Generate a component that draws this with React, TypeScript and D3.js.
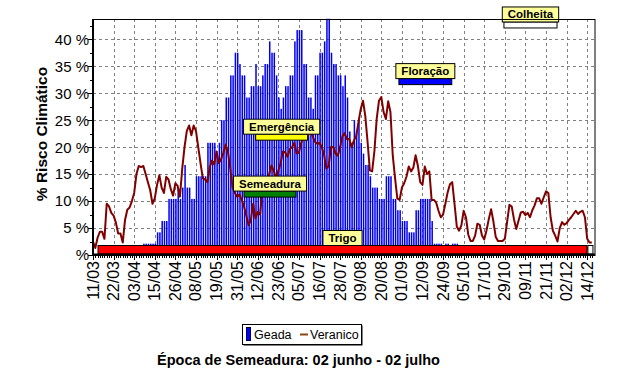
import { useEffect, useRef } from "react"
import * as d3 from "d3"

// x axis is one category per point, a date label every 9 points
const dateLabels = [
  "11/03", "22/03", "03/04", "15/04", "26/04", "08/05", "19/05", "31/05", "12/06",
  "23/06", "05/07", "16/07", "28/07", "09/08", "20/08", "01/09", "12/09", "24/09",
  "05/10", "17/10", "29/10", "09/11", "21/11", "02/12", "14/12",
]
const labelStep = 9
const nPoints = 219.4

// Veranico (%), one value per point
const veranico = [
  2.5, 1.3, 3.2, 4.3, 4.3, 3.0, 9.5, 9.0, 7.8, 7.3,
  6.0, 4.0, 4.0, 2.3, 6.5, 8.4, 8.8, 10.0, 11.5, 15.0,
  16.5, 16.3, 16.5, 15.0, 13.5, 12.0, 9.5, 10.5, 13.0, 14.8,
  12.5, 11.5, 14.5, 14.0, 12.2, 11.0, 13.3, 12.8, 10.8, 16.0,
  20.0, 23.0, 24.0, 22.2, 24.0, 23.0, 20.0, 17.0, 14.2, 14.0,
  13.5, 16.3, 17.5, 16.8, 19.2, 17.0, 17.8, 18.9, 20.5, 19.0,
  16.0, 12.5, 11.5, 10.8, 11.2, 10.2, 9.0, 7.3, 5.5, 6.5,
  9.5, 6.8, 8.0, 7.5, 11.8, 13.4, 13.0, 15.0, 16.6, 15.6,
  14.2, 15.6, 17.0, 19.2, 19.0, 18.2, 19.6, 20.0, 20.8, 18.8,
  19.0, 20.8, 21.8, 21.4, 22.3, 23.0, 22.0, 21.0, 20.6, 20.8,
  20.0, 18.5, 16.0, 16.5, 20.0, 20.0, 18.8, 18.4, 20.0, 22.0,
  22.6, 21.5, 21.5, 20.0, 21.2, 22.0, 24.6, 27.0, 28.6, 25.8,
  21.0, 15.7, 15.5, 19.3, 25.3, 28.6, 29.3, 26.5, 25.2, 28.5,
  26.5, 18.5, 14.3, 10.5, 10.2, 12.5, 13.3, 14.5, 16.4, 15.5,
  16.2, 18.5, 16.5, 13.5, 13.0, 16.4, 15.0, 15.5, 10.2, 10.2,
  9.7, 8.2, 7.0, 7.5, 9.5, 11.6, 13.1, 13.5, 9.5, 5.3,
  4.5, 5.5, 8.2, 7.0, 3.8, 2.6, 2.6, 3.6, 5.8, 5.6,
  3.6, 2.9, 4.6, 6.7, 8.5, 6.2, 3.4, 2.6, 2.6, 2.6,
  3.0, 6.2, 9.3, 9.0, 6.6, 4.8, 6.4, 7.9, 8.0, 7.4,
  7.8, 7.0, 8.3, 9.2, 10.5, 10.5, 9.5, 10.7, 11.8, 11.5,
  7.0, 4.5, 3.6, 2.5, 5.0, 6.1, 5.6, 5.9, 6.5, 7.0,
  7.6, 8.2, 7.6, 8.0, 8.2, 7.0, 3.0, 2.3, 2.3,
]

// Geada (%), one value per point
const geada = [
  0, 0, 0, 0, 0, 0, 0, 0, 0, 0,
  0, 0, 0, 0, 0, 0, 0, 0, 0, 0,
  0, 0, 2.1, 2.1, 2.1, 2.1, 2.1, 2.1, 4.2, 4.2,
  6.3, 6.3, 6.3, 10.4, 10.4, 10.4, 10.4, 12.5, 10.4, 12.5,
  16.7, 12.5, 12.5, 10.4, 10.4, 14.6, 14.6, 14.6, 14.6, 14.6,
  20.8, 20.8, 20.8, 20.8, 18.8, 20.8, 25, 25, 29.2, 29.2,
  33.3, 33.3, 37.5, 37.5, 35.4, 33.3, 33.3, 29.2, 29.2, 31.3,
  31.3, 35.4, 31.3, 31.3, 33.3, 35.4, 35.4, 39.6, 37.5, 37.5,
  33.3, 29.2, 27.1, 29.2, 31.3, 31.3, 33.3, 33.3, 39.6, 41.7,
  41.7, 41.7, 35.4, 35.4, 29.2, 29.2, 27.1, 33.3, 33.3, 37.5,
  37.5, 39.6, 43.8, 43.8, 37.5, 35.4, 35.4, 33.3, 33.3, 31.3,
  33.3, 29.2, 22.9, 20.8, 25, 22.9, 25, 20.8, 18.8, 16.7,
  16.7, 14.6, 12.5, 12.5, 12.5, 10.4, 10.4, 10.4, 14.6, 14.6,
  14.6, 10.4, 10.4, 8.3, 8.3, 6.3, 6.3, 6.3, 4.2, 4.2,
  4.2, 8.3, 8.3, 10.4, 10.4, 10.4, 10.4, 10.4, 6.3, 2.1,
  2.1, 2.1, 2.1, 0, 2.1, 2.1, 0, 2.1, 2.1, 2.1,
]

// crop phases: start / end point and level (%) of the bar top
const phaseNames = ["Trigo", "", "Semeadura", "Emergência", "Floração", "Colheita"]
const phaseStart = [2.2, 216.3, 66, 71.1, 133.7, 179.6]
const phaseEnd = [215.9, 218.5, 88.7, 93.8, 156.8, 202.8]
const phaseLevel = [1.76, 1.76, 11.85, 22.4, 32.7, 43.2]
const phaseColors = ["#ff0000", "#ffffff", "#008000", "#ffff00", "#0000ff", "#ffffff"]

const yTicks = [5, 10, 15, 20, 25, 30, 35, 40]

const FONT = "'Liberation Sans', Arial, sans-serif"

export default function App() {
  const svgRef = useRef<SVGSVGElement>(null)

  useEffect(() => {
    const svg = d3.select(svgRef.current)
    svg.selectAll("*").remove()

    const left = 93
    const right = 595
    const top = 19
    const bottom = 255

    const x = d3.scaleLinear().domain([0, nPoints]).range([left, right])
    const y = d3.scaleLinear().domain([0, 43.75]).range([bottom, top])

    svg.append("rect").attr("width", 625).attr("height", 389).attr("fill", "#fff")

    // grid
    const grid = svg.append("g").attr("stroke", "#808080").attr("stroke-dasharray", "3,3")
      .attr("shape-rendering", "crispEdges")
    yTicks.forEach((t) => {
      const yy = Math.round(y(t)) + 0.5
      grid.append("line").attr("x1", left).attr("x2", right).attr("y1", yy).attr("y2", yy)
    })
    dateLabels.forEach((_, k) => {
      if (k === 0) return
      const xx = Math.round(x(k * labelStep)) + 0.5
      grid.append("line").attr("x1", xx).attr("x2", xx).attr("y1", top).attr("y2", bottom)
    })

    // Geada bars
    svg.append("g")
      .selectAll("rect")
      .data(geada.map((v, i) => ({ v, i })).filter((d) => d.v > 0))
      .enter()
      .append("rect")
      .attr("x", (d) => x(d.i) - 0.2)
      .attr("width", 1.5)
      .attr("y", (d) => y(d.v))
      .attr("height", (d) => y(0) - y(d.v))
      .attr("fill", "#0000f0")

    // Veranico line
    const line = d3.line<number>().x((_, i) => x(i)).y((v) => y(v))
    svg.append("path")
      .attr("d", line(veranico))
      .attr("fill", "none")
      .attr("stroke", "#800000")
      .attr("stroke-width", 2)
      .attr("stroke-linejoin", "round")

    // phases
    phaseNames.forEach((name, i) => {
      const x0 = x(phaseStart[i])
      const x1 = x(phaseEnd[i])
      const barTop = y(phaseLevel[i])
      const h = phaseLevel[i] < 5 ? y(0) - barTop - 1 : 6
      svg.append("rect")
        .attr("x", x0).attr("y", barTop).attr("width", x1 - x0).attr("height", h)
        .attr("fill", phaseColors[i]).attr("stroke", "#000").attr("stroke-width", 1)
      if (!name) return
      const cx = (x0 + x1) / 2
      const g = svg.append("g")
      const box = g.append("rect")
      const txt = g.append("text")
        .attr("x", cx).attr("y", barTop - 3.5)
        .attr("text-anchor", "middle")
        .attr("font-family", FONT).attr("font-weight", "bold").attr("font-size", 11.5)
        .text(name)
      const w = (txt.node() as SVGTextElement).getComputedTextLength() + 11
      box.attr("x", cx - w / 2).attr("y", barTop - 15).attr("width", w).attr("height", 15)
        .attr("fill", "#ffff99").attr("stroke", "#000").attr("stroke-width", 1)
    })

    // frame and axes
    svg.append("rect").attr("x", left).attr("y", top + 0.5).attr("width", right - left)
      .attr("height", bottom - top).attr("fill", "none").attr("stroke", "#000")
    svg.append("line").attr("x1", left).attr("x2", left).attr("y1", top).attr("y2", bottom + 1)
      .attr("stroke", "#000").attr("stroke-width", 2)
    svg.append("line").attr("x1", left).attr("x2", right).attr("y1", bottom - 0.5).attr("y2", bottom - 0.5)
      .attr("stroke", "#000").attr("stroke-width", 2)

    const ticks = svg.append("g").attr("stroke", "#000").attr("shape-rendering", "crispEdges")
    d3.range(0, 43.75, 2.5).forEach((t) => {
      const yy = Math.round(y(t)) + 0.5
      ticks.append("line").attr("x1", t % 5 === 0 ? 88 : 90).attr("x2", left).attr("y1", yy).attr("y2", yy)
    })
    d3.range(0, 219).forEach((i) => {
      const xx = Math.round(x(i)) + 0.5
      ticks.append("line").attr("x1", xx).attr("x2", xx).attr("y1", bottom)
        .attr("y2", bottom + (i % labelStep === 0 ? 5 : 3))
    })

    // y labels
    svg.append("g")
      .selectAll("text")
      .data([0, ...yTicks])
      .enter()
      .append("text")
      .attr("x", 89)
      .attr("y", (d) => y(d))
      .attr("dy", "0.36em")
      .attr("text-anchor", "end")
      .attr("font-family", FONT)
      .attr("font-size", 15)
      .text((d) => (d === 0 ? "%" : `${d} %`))

    // x labels
    svg.append("g")
      .selectAll("text")
      .data(dateLabels)
      .enter()
      .append("text")
      .attr("transform", (_, k) => `translate(${x(k * labelStep) + 5.5},${bottom + 6}) rotate(-90)`)
      .attr("text-anchor", "end")
      .attr("font-family", FONT)
      .attr("font-size", 16)
      .text((d) => d)

    // y title
    svg.append("text")
      .attr("transform", "translate(47,134) rotate(-90)")
      .attr("text-anchor", "middle")
      .attr("font-family", FONT)
      .attr("font-weight", "bold")
      .attr("font-size", 15.5)
      .text("% Risco Climático")

    // legend
    const lg = svg.append("g")
    lg.append("rect").attr("x", 243.5).attr("y", 325.5).attr("width", 119).attr("height", 20).attr("fill", "#000")
    lg.append("rect").attr("x", 242.5).attr("y", 324.5).attr("width", 119).attr("height", 20)
      .attr("fill", "#fff").attr("stroke", "#000")
    lg.append("rect").attr("x", 246.5).attr("y", 327.5).attr("width", 4).attr("height", 13)
      .attr("fill", "#0000ff").attr("stroke", "#000040")
    lg.append("text").attr("x", 254).attr("y", 339).attr("font-family", FONT).attr("font-size", 12.5).text("Geada")
    lg.append("line").attr("x1", 300).attr("x2", 308).attr("y1", 334.5).attr("y2", 334.5)
      .attr("stroke", "#8b4513").attr("stroke-width", 2)
    lg.append("text").attr("x", 310).attr("y", 339).attr("font-family", FONT).attr("font-size", 12.5).text("Veranico")

    // caption
    svg.append("text")
      .attr("x", 298.5)
      .attr("y", 365)
      .attr("text-anchor", "middle")
      .attr("font-family", FONT)
      .attr("font-weight", "bold")
      .attr("font-size", 14.5)
      .text("Época de Semeadura: 02 junho - 02 julho")
  }, [])

  return (
    <svg
      ref={svgRef}
      width={625}
      height={389}
      style={{ position: "absolute", left: 0, top: 0, display: "block" }}
    ></svg>
  )
}
